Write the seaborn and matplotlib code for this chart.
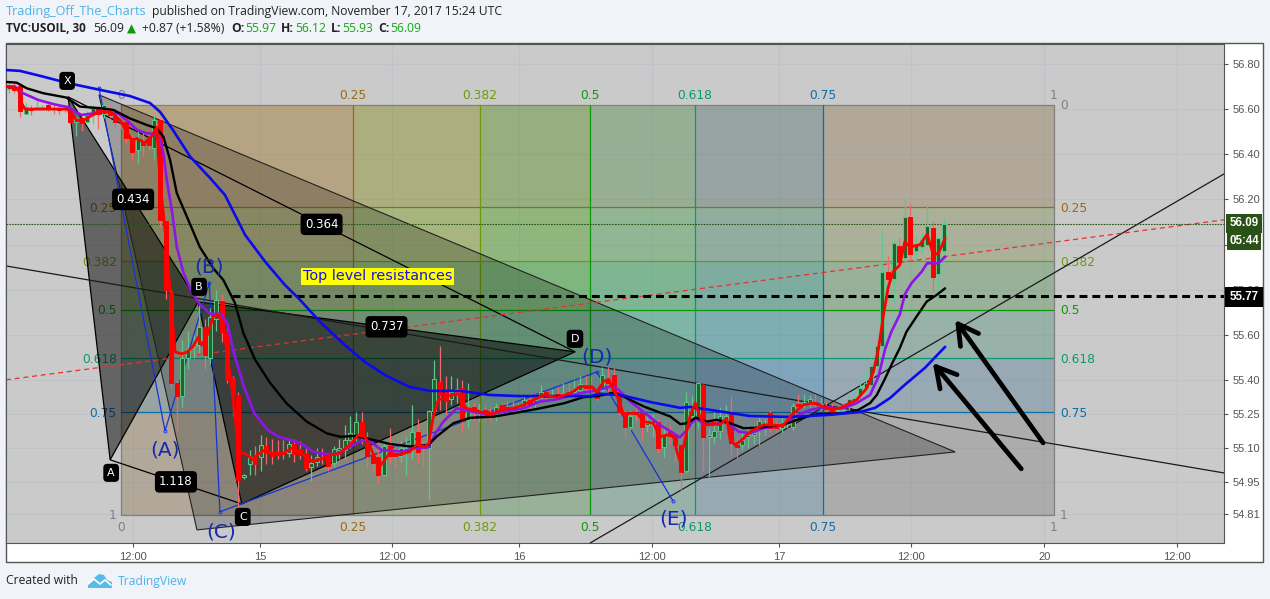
import numpy as np
import matplotlib
matplotlib.use('Agg')
import matplotlib.pyplot as plt
from matplotlib.patches import Rectangle, Polygon, Circle
from matplotlib.transforms import blended_transform_factory
import seaborn as sns

# --- candles (one value per 30 min bar) ---
opens = [
    56.69, 56.695, 56.70, 56.58, 56.605, 56.60, 56.605, 56.618, 56.604, 56.604,
    56.604, 56.596, 56.545, 56.56, 56.545, 56.574, 56.604, 56.58, 56.596, 56.57,
    56.545, 56.545, 56.47, 56.42, 56.455, 56.478, 56.43, 56.55, 56.105, 55.79,
    55.39, 55.33, 55.50, 55.55, 55.556, 55.635, 55.50, 55.67, 55.75, 55.62,
    55.41, 55.335, 54.97, 55.03, 55.06, 55.06, 55.11, 55.08, 55.08, 55.077,
    55.077, 55.12, 55.096, 55.08, 55.018, 55.04, 55.06, 55.062, 55.033, 55.09,
    55.09, 55.135, 55.158, 55.217, 55.15, 55.065, 55.062, 54.98, 55.11, 55.08,
    55.065, 55.09, 55.106, 55.173, 55.106, 55.099, 55.264, 55.394, 55.35, 55.316,
    55.35, 55.364, 55.224, 55.283, 55.25, 55.27, 55.26, 55.26, 55.29, 55.28,
    55.28, 55.27, 55.283, 55.313, 55.298, 55.33, 55.347, 55.33, 55.34, 55.335,
    55.35, 55.35, 55.357, 55.375, 55.375, 55.357, 55.357, 55.40, 55.424, 55.35,
    55.26, 55.195, 55.256, 55.256, 55.20, 55.20, 55.217, 55.104, 55.173, 55.158,
    55.114, 55.00, 55.24, 55.232, 55.38, 55.15, 55.15, 55.176, 55.23, 55.259,
    55.114, 55.114, 55.15, 55.16, 55.19, 55.195, 55.254, 55.195, 55.188, 55.205,
    55.195, 55.294, 55.29, 55.294, 55.303, 55.29, 55.288, 55.276, 55.265, 55.27,
    55.28, 55.31, 55.335, 55.365, 55.38, 55.465, 55.553, 55.878, 55.85, 55.996,
    55.94, 56.124, 55.97, 55.99, 56.00, 56.075, 55.87, 55.97,
]
closes = [
    56.70, 56.685, 56.59, 56.61, 56.596, 56.61, 56.61, 56.604, 56.60, 56.598,
    56.60, 56.545, 56.56, 56.537, 56.574, 56.604, 56.58, 56.618, 56.574, 56.545,
    56.537, 56.47, 56.41, 56.47, 56.44, 56.44, 56.55, 56.11, 55.80, 55.39,
    55.33, 55.50, 55.54, 55.56, 55.635, 55.51, 55.68, 55.755, 55.615, 55.40,
    55.335, 54.96, 54.98, 55.06, 55.03, 55.115, 55.08, 55.065, 55.07, 55.073,
    55.12, 55.072, 55.07, 55.01, 55.033, 55.062, 55.055, 55.021, 55.095, 55.10,
    55.136, 55.165, 55.217, 55.15, 55.065, 55.033, 54.98, 55.11, 55.065, 55.065,
    55.10, 55.10, 55.173, 55.084, 55.099, 55.264, 55.404, 55.335, 55.31, 55.35,
    55.36, 55.224, 55.264, 55.27, 55.27, 55.25, 55.24, 55.28, 55.266, 55.273,
    55.27, 55.28, 55.313, 55.29, 55.313, 55.347, 55.328, 55.335, 55.335, 55.345,
    55.33, 55.36, 55.384, 55.365, 55.365, 55.32, 55.424, 55.387, 55.35, 55.26,
    55.195, 55.242, 55.25, 55.195, 55.21, 55.225, 55.10, 55.158, 55.158, 55.114,
    54.996, 55.306, 55.27, 55.387, 55.147, 55.158, 55.176, 55.244, 55.24, 55.122,
    55.104, 55.136, 55.16, 55.165, 55.22, 55.20, 55.191, 55.19, 55.21, 55.21,
    55.284, 55.288, 55.306, 55.316, 55.294, 55.295, 55.274, 55.25, 55.27, 55.275,
    55.316, 55.32, 55.365, 55.39, 55.465, 55.553, 55.878, 55.85, 56.006, 55.925,
    56.124, 55.957, 56.00, 56.02, 56.084, 55.856, 56.03, 56.09,
]
highs = [
    56.72, 56.72, 56.71, 56.625, 56.62, 56.635, 56.62, 56.625, 56.62, 56.62,
    56.62, 56.61, 56.57, 56.57, 56.59, 56.62, 56.615, 56.63, 56.62, 56.58,
    56.56, 56.55, 56.49, 56.51, 56.50, 56.49, 56.575, 56.56, 56.11, 55.80,
    55.40, 55.58, 55.62, 55.60, 55.74, 55.67, 55.72, 55.80, 55.78, 55.64,
    55.42, 55.35, 54.985, 55.09, 55.11, 55.16, 55.15, 55.14, 55.136, 55.136,
    55.143, 55.14, 55.13, 55.10, 55.07, 55.10, 55.10, 55.08, 55.11, 55.14,
    55.20, 55.24, 55.26, 55.26, 55.17, 55.09, 55.10, 55.13, 55.19, 55.12,
    55.13, 55.15, 55.29, 55.23, 55.13, 55.27, 55.49, 55.55, 55.42, 55.42,
    55.41, 55.40, 55.39, 55.30, 55.30, 55.29, 55.28, 55.30, 55.30, 55.31,
    55.31, 55.30, 55.33, 55.33, 55.34, 55.38, 55.35, 55.36, 55.37, 55.39,
    55.39, 55.40, 55.42, 55.42, 55.42, 55.37, 55.46, 55.46, 55.455, 55.36,
    55.27, 55.27, 55.28, 55.27, 55.25, 55.25, 55.23, 55.20, 55.20, 55.17,
    55.12, 55.35, 55.33, 55.39, 55.385, 55.19, 55.26, 55.28, 55.29, 55.33,
    55.15, 55.17, 55.20, 55.20, 55.24, 55.23, 55.27, 55.22, 55.24, 55.23,
    55.30, 55.34, 55.34, 55.335, 55.34, 55.32, 55.31, 55.30, 55.29, 55.30,
    55.35, 55.35, 55.40, 55.44, 55.50, 55.58, 56.06, 55.95, 56.02, 56.03,
    56.20, 56.18, 56.035, 56.05, 56.18, 56.105, 56.03, 56.12,
]
lows = [
    56.67, 56.67, 56.565, 56.575, 56.575, 56.595, 56.595, 56.59, 56.58, 56.58,
    56.585, 56.53, 56.48, 56.505, 56.54, 56.535, 56.51, 56.56, 56.56, 56.515,
    56.51, 56.45, 56.375, 56.36, 56.39, 56.42, 56.38, 56.08, 55.76, 55.37,
    55.17, 55.28, 55.45, 55.50, 55.52, 55.45, 55.47, 55.62, 55.57, 55.39,
    55.24, 54.81, 54.965, 54.98, 54.98, 55.00, 55.03, 55.03, 55.05, 55.05,
    55.06, 55.04, 55.05, 55.00, 54.955, 55.02, 55.03, 55.00, 55.02, 55.05,
    55.05, 55.10, 55.13, 55.12, 55.01, 55.00, 54.945, 54.975, 55.03, 55.01,
    55.04, 54.98, 55.05, 55.04, 55.02, 54.87, 55.26, 55.27, 55.25, 55.29,
    55.30, 55.17, 55.19, 55.22, 55.22, 55.22, 55.22, 55.22, 55.25, 55.25,
    55.25, 55.26, 55.27, 55.27, 55.28, 55.32, 55.31, 55.32, 55.32, 55.32,
    55.32, 55.33, 55.34, 55.35, 55.35, 55.31, 55.35, 55.34, 55.34, 55.245,
    55.15, 55.18, 55.22, 55.14, 55.17, 55.15, 55.08, 55.06, 55.12, 55.04,
    54.915, 54.99, 55.20, 55.19, 55.00, 54.97, 55.12, 55.14, 55.20, 55.07,
    55.055, 55.09, 55.10, 55.12, 55.115, 55.16, 55.17, 55.17, 55.17, 55.19,
    55.18, 55.27, 55.28, 55.28, 55.28, 55.27, 55.26, 55.24, 55.25, 55.25,
    55.26, 55.30, 55.32, 55.34, 55.36, 55.44, 55.54, 55.81, 55.74, 55.90,
    55.92, 55.93, 55.93, 55.96, 55.98, 55.79, 55.76, 55.93,
]

# --- moving averages: bar position / price ---
red_x = [-0.4, 1.7, 2.3, 2.9, 5.3, 10.4, 11.3, 12.1, 13.3, 15.4, 16.6, 18.4, 19.9, 22, 22.9, 24.3, 25.5, 26.4,
         27, 28.2, 29.1, 29.7, 30.9, 31.8, 32.9, 33.8, 34.4, 35.3, 36.5, 37.3, 38.2, 39.1, 40, 40.9, 41.5, 42.6,
         43.5, 44.4, 45.6, 47, 49, 50.5, 52, 53.4, 54.3, 56.1, 57.6, 59.1, 60.9, 62.4, 63.6, 64.5, 65.6, 66.2,
         67.1, 68, 69.5, 71.6, 72.8, 74.3, 75, 75.8, 76.7, 78.1, 80.2, 81.1, 81.7, 84.2, 86, 87.8, 90.1, 91.9,
         93.7, 95.5, 97.9, 100.3, 102, 104.1, 105, 106.2, 107.1, 108, 108.9, 109.8, 111, 112.2, 113.4, 115.1,
         116.3, 117.5, 118.7, 119.3, 119.9, 120.8, 121.7, 122.6, 123.5, 124.6, 125.8, 127, 128.2, 128.8, 129.7,
         130.9, 132.4, 134.8, 138.3, 139.8, 141.9, 143.7, 145.5, 146.7, 148.5, 150.2, 151.4, 153.2, 154.4, 155.3,
         156.2, 157, 157.9, 159.1, 160, 160.9, 162.7, 164, 165.1, 166, 167.2]
red_y = [56.70, 56.69, 56.626, 56.60, 56.60, 56.60, 56.58, 56.55, 56.55, 56.58, 56.59, 56.586, 56.55, 56.46, 56.47, 56.45, 56.48, 56.52,
         56.287, 55.99, 55.70, 55.525, 55.517, 55.525, 55.55, 55.59, 55.556, 55.59, 55.68, 55.69, 55.654, 55.50, 55.33, 55.12, 55.08, 55.07,
         55.048, 55.07, 55.09, 55.078, 55.077, 55.099, 55.084, 55.055, 55.04, 55.055, 55.07, 55.077, 55.114, 55.158, 55.15, 55.106, 55.047, 55.018,
         55.047, 55.077, 55.07, 55.084, 55.114, 55.106, 55.12, 55.24, 55.313, 55.328, 55.342, 55.298, 55.276, 55.261, 55.247, 55.269, 55.276, 55.291,
         55.313, 55.335, 55.325, 55.343, 55.372, 55.372, 55.35, 55.394, 55.404, 55.357, 55.313, 55.247, 55.254, 55.254, 55.217, 55.21,
         55.15, 55.158, 55.151, 55.085, 55.04, 55.144, 55.247, 55.299, 55.232, 55.203, 55.21, 55.203, 55.232, 55.136, 55.114,
         55.136, 55.173, 55.203, 55.20, 55.247, 55.291, 55.299, 55.284, 55.272, 55.277, 55.30, 55.313, 55.365, 55.438, 55.54,
         55.69, 55.807, 55.88, 55.91, 56.013, 55.99, 56.00, 56.046, 55.955, 55.962, 56.028]

purple_x = [-0.4, 1.1, 2.3, 5.3, 8.3, 10.7, 11.5, 13, 14.8, 16.6, 19.6, 21.1, 22.9, 24.6, 26.1, 27, 27.6, 28.2, 29.1, 30, 31.2,
            32.7, 34.2, 36, 37.8, 39, 40.2, 42, 43.8, 46.2, 48.4, 50.8, 52.6, 54.3, 56.4, 58.5, 60.9, 63.3, 65, 66.5, 70.4,
            72.2, 74.9, 76.4, 77.6, 80, 85.4, 88.4, 91.9, 94.9, 97.9, 102, 105.3, 107.7, 108.9, 111, 114, 116.3, 118.7, 119.8,
            120.8, 122.6, 124, 125.8, 127.6, 128.8, 130.3, 132.4, 134.8, 138.3, 140.4, 143.1, 145.5, 149, 151.4, 153.8, 155.3,
            156.5, 157.6, 159.1, 160, 161.2, 163, 164, 166, 167.2]
purple_y = [56.70, 56.70, 56.673, 56.64, 56.62, 56.608, 56.593, 56.574, 56.58, 56.59, 56.58, 56.55, 56.508, 56.493, 56.49, 56.47, 56.405, 56.287, 56.154, 55.99, 55.875,
            55.787, 55.733, 55.694, 55.694, 55.654, 55.52, 55.37, 55.256, 55.18, 55.148, 55.133, 55.114, 55.084, 55.074, 55.074, 55.106, 55.136, 55.121, 55.092, 55.084,
            55.099, 55.103, 55.173, 55.217, 55.276, 55.247, 55.261, 55.276, 55.306, 55.316, 55.343, 55.357, 55.375, 55.357, 55.306, 55.247, 55.202, 55.166, 55.147,
            55.173, 55.232, 55.21, 55.203, 55.217, 55.203, 55.173, 55.166, 55.188, 55.203, 55.24, 55.269, 55.28, 55.276, 55.299, 55.335, 55.416,
            55.54, 55.615, 55.69, 55.78, 55.83, 55.88, 55.918, 55.918, 55.947]

black_x = [-0.4, 1.4, 3.2, 6.2, 10.3, 12.7, 16.3, 18.7, 21.6, 24.6, 26.4, 27.6, 28.8, 30, 31.8, 34.1, 36.5, 38.3, 40.4, 41.9, 44,
           46.7, 49.6, 53.2, 56.8, 59.2, 62.1, 65.1, 68.1, 71.7, 74.9, 76.4, 79.4, 82.4, 86.6, 90.1, 94.9, 99.1, 102.6, 105.3,
           108, 109.8, 113.4, 116.6, 118.1, 119.9, 121.1, 122.7, 124.6, 126.4, 128.8, 131.2, 134.2, 138.3, 141.9, 144.3, 149,
           151.7, 153.8, 155, 156.5, 157.9, 159.1, 160.3, 162.1, 163.9, 165.7, 167.2]
black_y = [56.72, 56.717, 56.692, 56.67, 56.651, 56.611, 56.604, 56.596, 56.559, 56.53, 56.515, 56.478, 56.375, 56.228, 56.124, 55.99, 55.896, 55.844, 55.741, 55.608, 55.49,
           55.387, 55.298, 55.217, 55.165, 55.15, 55.154, 55.136, 55.118, 55.107, 55.114, 55.151, 55.21, 55.234, 55.239, 55.254, 55.276, 55.298, 55.325, 55.331,
           55.345, 55.328, 55.284, 55.254, 55.24, 55.206, 55.21, 55.235, 55.217, 55.225, 55.21, 55.188, 55.191, 55.203, 55.235, 55.25, 55.254,
           55.269, 55.299, 55.335, 55.409, 55.483, 55.542, 55.615, 55.682, 55.748, 55.778, 55.807]

blue_x = [-0.5, 2, 5.6, 10.4, 16.3, 21.6, 25.2, 27, 29.3, 32.4, 35.9, 38.6, 42.2, 45.8, 49.3, 52, 55.6, 60, 63.6, 67.2, 71.6,
          75.2, 80.6, 85.9, 91.3, 98.4, 103.8, 105.6, 109.2, 114.5, 119.9, 121.7, 125.2, 132.3, 139.5, 146.6, 152, 154.7,
          157.4, 160, 163.6, 167.2]
blue_y = [56.773, 56.769, 56.747, 56.716, 56.685, 56.658, 56.627, 56.588, 56.508, 56.389, 56.296, 56.22, 56.043, 55.924, 55.822, 55.756, 55.658, 55.556, 55.481, 55.423, 55.37,
          55.353, 55.353, 55.335, 55.33, 55.33, 55.33, 55.34, 55.335, 55.304, 55.278, 55.282, 55.269, 55.242, 55.238, 55.247, 55.26, 55.278,
          55.322, 55.38, 55.455, 55.548]

# --- axis ticks ---
xtick_pos = [22.2, 44.9, 68.4, 91.1, 114.9, 137.5, 161.1, 184.9, 208.6]
xtick_labels = ['12:00', '15', '12:00', '16', '12:00', '17', '12:00', '20', '12:00']
ytick_pos = [56.80, 56.60, 56.40, 56.20, 56.00, 55.80, 55.60, 55.40, 55.25, 55.10, 54.95, 54.81]
ytick_labels = ['56.80', '56.60', '56.40', '56.20', '56.00', '55.80', '55.60', '55.40', '55.25', '55.10', '54.95', '54.81']
xlim = (-0.5, 217.0)
ylim = (54.68, 56.888)

fib_levels = [0, 0.25, 0.382, 0.5, 0.618, 0.75, 1]
fib_names = ['0', '0.25', '0.382', '0.5', '0.618', '0.75', '1']
fib_colors = ['#808080', '#9a6a10', '#6f9a0a', '#0a9a0a', '#0a9a6e', '#0c6ea8', '#808080']
fib_cols = [20.0, 61.5, 84.1, 103.8, 122.5, 145.4, 186.6]
fib_top, fib_bottom = 56.619, 54.804

# --- XABCD pattern ---
pat_x = [10.6, 18.1, 33.8, 41.6, 101.1]
pat_y = [56.654, 55.048, 55.747, 54.853, 55.526]
pat_names = ['X', 'A', 'B', 'C', 'D']
big_tri_x = [16.1, 33.6, 169.0]
big_tri_y = [56.663, 54.738, 55.083]

# --- wave (A)...(E) ---
wave_x = [16.1, 27.9, 35.8, 37.7, 105.0, 118.6]
wave_y = [56.694, 55.176, 55.831, 54.818, 55.437, 54.866]
wave_names = ['', '(A)', '(B)', '(C)', '(D)', '(E)']

# --- trend lines ---
trend1_x, trend1_y = [-0.5, 217.0], [55.906, 54.99]
trend2_x, trend2_y = [103.8, 217.0], [54.68, 56.313]
red_dash_x, red_dash_y = [-0.5, 217.0], [55.402, 56.11]
resist_x, resist_y = [39.9, 217.0], [55.775, 55.775]
last_price = 56.09

arrow1_x, arrow1_y = [184.7, 169.0], [55.123, 55.667]
arrow2_x, arrow2_y = [180.8, 165.0], [55.008, 55.477]

W, H = 1270, 599
BG = '#f0f3f7'
sns.set_theme(style='white', rc={'axes.facecolor': '#cacaca', 'figure.facecolor': BG})
plt.rcParams['font.family'] = ['DejaVu Sans']

fig = plt.figure(figsize=(W / 100, H / 100), dpi=100)
fig.add_artist(Rectangle((6 / W, 1 - 562 / H), 1257 / W, 519 / H, transform=fig.transFigure,
                         facecolor='white', edgecolor='#555555', lw=1, zorder=-1))
ax = fig.add_axes([6 / W, 1 - 543 / H, 1218 / W, 499 / H])
ax.set_xlim(*xlim)
ax.set_ylim(*ylim)
ax.set_axisbelow(True)
ax.grid(True, color='#bdc3c8', lw=0.8)
ax.set_xticks(xtick_pos)
ax.set_xticklabels(xtick_labels)
ax.set_yticks(ytick_pos)
ax.set_yticklabels(ytick_labels)
ax.yaxis.tick_right()
ax.tick_params(axis='both', length=3, width=0.8, color='#555555', labelcolor='#555555', labelsize=8, pad=3.5, bottom=True, right=True)
for lab in ax.get_xticklabels() + ax.get_yticklabels():
    lab.set_fontfamily('Liberation Sans')
for sp in ax.spines.values():
    sp.set_color('#555555')
    sp.set_linewidth(0.8)

# --- fib bands ---
fib_left, fib_right = fib_cols[0], fib_cols[-1]
fib_h = fib_bottom - fib_top
for k in range(1, len(fib_levels)):
    l0, l1 = fib_levels[k - 1], fib_levels[k]
    col = fib_colors[k]
    ax.add_patch(Rectangle((fib_cols[k - 1], fib_bottom), fib_cols[k] - fib_cols[k - 1], -fib_h, facecolor=col, alpha=0.22, lw=0, zorder=1))
    ax.add_patch(Rectangle((fib_left, fib_top + l0 * fib_h), fib_right - fib_left, (l1 - l0) * fib_h, facecolor=col, alpha=0.22, lw=0, zorder=1))
for lev, xx, name, col in zip(fib_levels, fib_cols, fib_names, fib_colors):
    yy = fib_top + lev * fib_h
    ax.plot([xx, xx], [fib_bottom, fib_top], color=col, lw=0.9, zorder=1.5)
    ax.plot([fib_left, fib_right], [yy, yy], color=col, lw=0.9, zorder=1.5)
    ax.annotate(name, (xx, fib_top), xytext=(0, 9), textcoords='offset pixels', color=col, fontsize=8.8, ha='center', va='center', zorder=2)
    ax.annotate(name, (xx, fib_bottom), xytext=(0, -13), textcoords='offset pixels', color=col, fontsize=8.8, ha='center', va='center', zorder=2)
    if lev > 0:
        ax.annotate(name, (fib_left, yy), xytext=(-4, -1), textcoords='offset pixels', color=col, fontsize=8.8, ha='right', va='center', zorder=2)
    ax.annotate(name, (fib_right, yy), xytext=(6, -1), textcoords='offset pixels', color=col, fontsize=8.8, ha='left', va='center', zorder=2)

# --- triangles ---
ax.add_patch(Polygon(list(zip(big_tri_x, big_tri_y)), closed=True, facecolor='black', alpha=0.22, lw=0, zorder=2))
ax.add_patch(Polygon(list(zip(big_tri_x, big_tri_y)), closed=True, fill=False, edgecolor='#222222', lw=0.8, zorder=2.1))
for tri in ([0, 1, 2], [2, 3, 4]):
    pts = [(pat_x[t], pat_y[t]) for t in tri]
    ax.add_patch(Polygon(pts, closed=True, facecolor='black', alpha=0.5, lw=0, zorder=2))
    ax.add_patch(Polygon(pts, closed=True, fill=False, edgecolor='black', lw=0.9, zorder=2.1))
for a, b in [(0, 4), (1, 3)]:
    ax.plot([pat_x[a], pat_x[b]], [pat_y[a], pat_y[b]], color='black', lw=0.9, zorder=2.1)

# --- trend lines ---
ax.plot(trend1_x, trend1_y, color='#1a1a1a', lw=0.9, zorder=2.2)
ax.plot(trend2_x, trend2_y, color='#1a1a1a', lw=0.9, zorder=2.2)
ax.plot(red_dash_x, red_dash_y, color='#e83030', lw=0.9, ls=(0, (4, 3)), zorder=2.2)
ax.axhline(last_price, color='#2b5216', lw=0.8, ls=(0, (1.5, 1)), zorder=2.2)
ax.plot(resist_x, resist_y, color='black', lw=2.2, ls=(0, (2.6, 1.6)), zorder=2.3)
ax.plot(wave_x, wave_y, color='#1533d8', lw=0.9, marker='o', ms=2.2, mfc='none', mew=0.6, zorder=2.4)

# --- candles ---
bars = np.arange(len(opens))
o = np.array(opens)
c = np.array(closes)
h = np.array(highs)
l = np.array(lows)
up = c >= o
ax.vlines(bars[up], l[up], h[up], color='#62c48f', lw=0.9, zorder=3)
ax.vlines(bars[~up], l[~up], h[~up], color='#ee6a6a', lw=0.9, zorder=3)
ax.bar(bars[up], (c - o)[up], bottom=o[up], width=0.72, color='#2b6128', edgecolor='#62c48f', lw=0.7, zorder=3.1)
ax.bar(bars[~up], (o - c)[~up], bottom=c[~up], width=0.72, color='#ff0000', edgecolor='#ff0000', lw=0.7, zorder=3.1)

# --- medias ---
sns.lineplot(x=purple_x, y=purple_y, sort=False, estimator=None, color='#8f14e8', linewidth=1.9, ax=ax, zorder=4)
sns.lineplot(x=black_x, y=black_y, sort=False, estimator=None, color='black', linewidth=1.7, ax=ax, zorder=4.1)
sns.lineplot(x=blue_x, y=blue_y, sort=False, estimator=None, color='#0a0aee', linewidth=1.9, ax=ax, zorder=4.2)
sns.lineplot(x=red_x, y=red_y, sort=False, estimator=None, color='#ff0000', linewidth=2.0, ax=ax, zorder=4.3)

# --- labels ---
box = dict(boxstyle='round,pad=0.3', facecolor='black', edgecolor='black')
pat_off = [(-1, 16), (1, -13), (1, 15), (1, -13), (0, 13)]
for xx, yy, name, off in zip(pat_x, pat_y, pat_names, pat_off):
    ax.annotate(name, (xx, yy), xytext=off, textcoords='offset pixels', color='white', fontsize=8, ha='center', va='center', bbox=box, zorder=6)
ratio_pairs = [(0, 2, '0.434'), (0, 4, '0.364'), (2, 4, '0.737'), (1, 3, '1.118')]
for a, b, name in ratio_pairs:
    ax.text((pat_x[a] + pat_x[b]) / 2, (pat_y[a] + pat_y[b]) / 2, name, color='white', fontsize=8.5, ha='center', va='center', bbox=box, zorder=6)

wave_off = [(0, 0), (0, -19), (0, 16), (1, -20), (0, 15), (1, -18)]
for xx, yy, name, off in zip(wave_x, wave_y, wave_names, wave_off):
    if name:
        ax.annotate(name, (xx, yy), xytext=off, textcoords='offset pixels', color='#1428b0', fontsize=14.5, ha='center', va='center', zorder=6)

ax.text(65.9, 55.86, 'Top level resistances', color='#1414e0', fontsize=10.4, ha='center', va='center',
        bbox=dict(facecolor='#ffff00', edgecolor='none', pad=1.2), zorder=6)

for ax_x, ax_y in [(arrow1_x, arrow1_y), (arrow2_x, arrow2_y)]:
    ax.annotate('', xy=(ax_x[1], ax_y[1]), xytext=(ax_x[0], ax_y[0]),
                arrowprops=dict(arrowstyle='->,head_length=0.75,head_width=0.42', color='black', lw=3.4, shrinkA=0, shrinkB=0, mutation_scale=19), zorder=6)

# --- caixas de preco no eixo ---
trans = blended_transform_factory(ax.transAxes, ax.transData)
for val, txt, bg, dy, pad in [(55.77, '55.77', 'black', 0, 0.35), (56.09, '56.09', '#2b5216', 1, 0.3), (56.09, '05:44', '#2b5216', -17, 0.2)]:
    ax.annotate(txt, xy=(1.0, val), xycoords=trans, xytext=(20, dy), textcoords='offset pixels', color='white', fontsize=8.3,
                fontweight='bold', fontfamily='Liberation Sans', ha='center', va='center', annotation_clip=False,
                bbox=dict(boxstyle='square,pad=%s' % pad, facecolor=bg, edgecolor='none'), zorder=7)

# --- cabecalho e rodape ---
def ftext(px, py, s, **kw):
    kw.setdefault('family', 'Open Sans')
    kw.setdefault('fontsize', 8.75)
    kw.setdefault('va', 'center')
    fig.text(px / W, 1 - py / H, s, **kw)

dark = '#222222'
green = '#14a514'
tv_blue = '#4db2e8'
ftext(6, 11, 'Trading_Off_The_Charts', color=tv_blue, fontsize=9.1)
ftext(152, 11, 'published on TradingView.com, November 17, 2017 15:24 UTC', color=dark)
ftext(6, 29, 'TVC:USOIL, 30', color=dark, fontweight='bold', fontsize=8.5)
ftext(93, 29, '56.09', color=dark)
ftext(127, 29, '▲', color='#0a9a0a', family='DejaVu Sans', fontsize=8.5)
ftext(142, 29, '+0.87 (+1.58%)', color=dark)
for px_lab, lab, px_val, val in [(231, 'O:', 245, '55.97'), (281, 'H:', 295, '56.12'), (331, 'L:', 342, '55.93'), (378, 'C:', 390, '56.09')]:
    ftext(px_lab, 29, lab, color=dark, fontweight='bold')
    ftext(px_val, 29, val, color=green)

ftext(6, 581, 'Created with', color=dark)
ftext(118, 581, 'TradingView', color=tv_blue)
logo_ax = fig.add_axes([87 / W, 1 - 590 / H, 26 / W, 17 / H])
logo_ax.set_xlim(0, 26)
logo_ax.set_ylim(0, 17)
logo_ax.axis('off')
logo_ax.add_patch(Polygon([(1, 2), (1, 5), (7, 12), (12, 16), (17, 15), (20, 10), (25, 8), (25, 2)], closed=True, facecolor='#57bde8', edgecolor='none'))
logo_ax.plot([1, 7, 13, 18, 24], [6, 11, 6, 10, 5], color='white', lw=1.2)

fig.savefig('out.png', dpi=100, facecolor=BG)
